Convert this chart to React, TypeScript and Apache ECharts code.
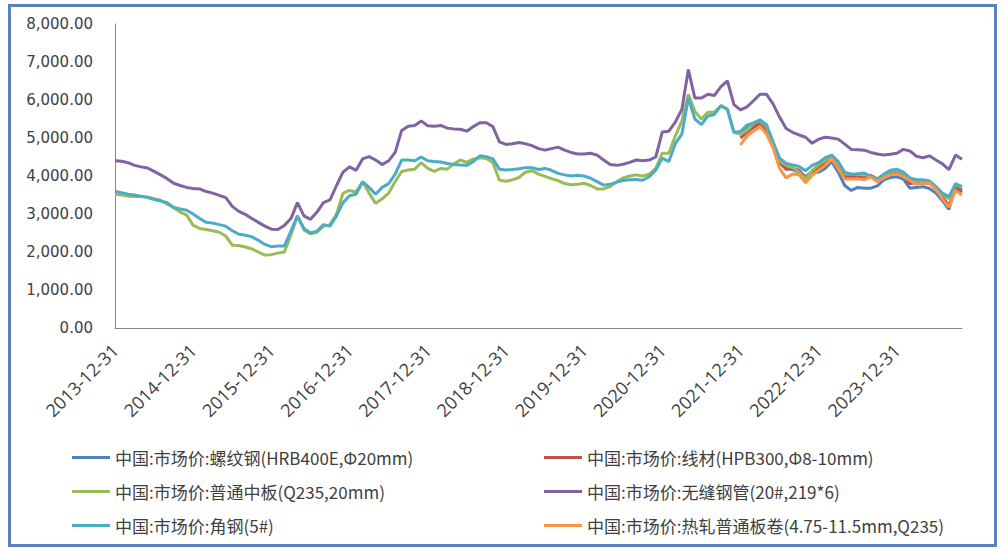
import React, { useEffect, useRef } from 'react';
import * as echarts from 'echarts';

// Monthly observations, month-end dates from 2013-12 to 2024-10
const START_YEAR = 2013;
const START_MONTH = 12;
const MONTH_COUNT = 131;

function monthEnd(y: number, m: number): string {
  const d = new Date(Date.UTC(y, m, 0)).getUTCDate();
  return `${y}-${String(m).padStart(2, '0')}-${d}`;
}

const categories: string[] = [];
for (let k = 0; k < MONTH_COUNT; k++) {
  const idx = START_MONTH - 1 + k;
  categories.push(monthEnd(START_YEAR + Math.floor(idx / 12), (idx % 12) + 1));
}

const seriesNames = [
  '中国:市场价:螺纹钢(HRB400E,Φ20mm)',
  '中国:市场价:线材(HPB300,Φ8-10mm)',
  '中国:市场价:普通中板(Q235,20mm)',
  '中国:市场价:无缝钢管(20#,219*6)',
  '中国:市场价:角钢(5#)',
  '中国:市场价:热轧普通板卷(4.75-11.5mm,Q235)',
];

const seriesColors = ['#4F81BD', '#C0504D', '#9BBB59', '#8064A2', '#4BACC6', '#F79646'];

// 无缝钢管 (full period)
const seamlessPipe = [
  4400, 4390, 4350, 4280, 4240, 4210, 4120, 4030, 3930, 3810, 3750, 3700,
  3670, 3660, 3590, 3550, 3490, 3430, 3200, 3070, 2990, 2880, 2780, 2680,
  2600, 2590, 2700, 2880, 3300, 2950, 2860, 3050, 3300, 3370, 3750, 4100,
  4240, 4150, 4450, 4510, 4420, 4300, 4400, 4620, 5200, 5310, 5330, 5450,
  5320, 5310, 5330, 5260, 5240, 5230, 5180, 5300, 5400, 5400, 5300, 4900,
  4830, 4850, 4880, 4850, 4800, 4720, 4680, 4720, 4760, 4680, 4620, 4580,
  4580, 4600, 4550, 4420, 4300, 4280, 4310, 4360, 4420, 4400, 4420, 4500,
  5160, 5180, 5420, 5750, 6800, 6050, 6050, 6150, 6120, 6350, 6500, 5880,
  5740, 5820, 5980, 6150, 6150, 5900, 5550, 5250, 5150, 5080, 5020, 4860,
  4970, 5020, 5000, 4970, 4840, 4700, 4690, 4680, 4620, 4580, 4550, 4570,
  4600, 4700, 4660, 4520, 4480, 4530, 4420, 4320, 4170, 4550, 4440,
];

// 角钢 (full period)
const angleSteel = [
  3590, 3560, 3520, 3500, 3470, 3430, 3380, 3340, 3300, 3170, 3130, 3100,
  3000, 2880, 2780, 2760, 2720, 2680, 2560, 2470, 2440, 2400, 2310, 2200,
  2140, 2160, 2160, 2550, 2950, 2620, 2500, 2550, 2720, 2680, 2950, 3300,
  3480, 3520, 3850, 3700, 3520, 3700, 3800, 4050, 4420, 4420, 4400, 4500,
  4400, 4380, 4370, 4330, 4300, 4290, 4280, 4380, 4530, 4510, 4450, 4180,
  4160, 4170, 4190, 4220, 4220, 4170, 4200, 4150, 4070, 4030, 4000, 4020,
  4000, 3940, 3850, 3760, 3780, 3840, 3880, 3900, 3910, 3890, 3980, 4150,
  4470, 4380, 4850, 5100, 6050, 5500, 5350, 5580, 5620, 5850, 5750, 5150,
  5170, 5340, 5400, 5480, 5350, 4900, 4470, 4330, 4290, 4250, 4140, 4280,
  4350, 4480, 4550, 4380, 4100, 4040, 4060, 4080, 3990, 3920, 4050, 4150,
  4180, 4100, 3950, 3900, 3900, 3870, 3720, 3550, 3450, 3800, 3720,
];

// 普通中板 (full period)
const mediumPlate = [
  3520, 3500, 3470, 3460, 3460, 3450, 3400, 3360, 3260, 3170, 3050, 2970,
  2700, 2620, 2590, 2560, 2520, 2420, 2180, 2170, 2130, 2080, 2000, 1920,
  1930, 1970, 2000, 2450, 2950, 2580, 2480, 2520, 2680, 2720, 3000, 3550,
  3620, 3580, 3850, 3550, 3280, 3400, 3550, 3850, 4120, 4160, 4180, 4350,
  4200, 4120, 4200, 4180, 4320, 4420, 4360, 4450, 4480, 4460, 4350, 3890,
  3860, 3900, 3960, 4100, 4140, 4050, 3990, 3930, 3880, 3800, 3770, 3780,
  3810, 3750, 3660, 3660, 3720, 3850, 3950, 4000, 4030, 4000, 4050, 4200,
  4600, 4600, 5050, 5450, 6150, 5700, 5500, 5680, 5680, 5850, 5760, 5150,
  5100, 5200, 5380, 5450, 5300, 4850, 4400, 4280, 4220, 4100, 3920, 4150,
  4300, 4420, 4520, 4350, 4080, 4050, 4030, 4050, 3980, 3900, 4020, 4120,
  4150, 4080, 3920, 3860, 3870, 3840, 3700, 3520, 3400, 3780, 3700,
];

// Series reported from 2021-12-31 onwards
const LATE_START = '2021-12-31';

const rebar = [
  5120, 5300, 5350, 5450, 5300, 4800, 4420, 4200, 4170, 4100, 3980, 4120,
  4100, 4200, 4380, 4100, 3750, 3620, 3700, 3680, 3680, 3740, 3900, 3960,
  3980, 3920, 3680, 3700, 3720, 3670, 3550, 3350, 3120, 3750, 3630,
];

const wireRod = [
  5000, 5150, 5280, 5380, 5220, 4800, 4350, 4180, 4200, 4150, 3950, 4100,
  4220, 4320, 4480, 4250, 3980, 3980, 3980, 3950, 4020, 3920, 4000, 4080,
  4100, 4030, 3800, 3820, 3860, 3840, 3680, 3450, 3220, 3680, 3580,
];

const hotRolledCoil = [
  4820, 5050, 5180, 5300, 5100, 4750, 4200, 3950, 4050, 4030, 3820, 4020,
  4150, 4280, 4450, 4200, 3920, 3920, 3930, 3900, 3970, 3850, 3950, 4030,
  4060, 3980, 3880, 3780, 3800, 3810, 3650, 3400, 3180, 3620, 3500,
];

function fromDate(values: number[], start: string): (number | null)[] {
  const offset = categories.indexOf(start);
  const out: (number | null)[] = new Array(offset).fill(null);
  return out.concat(values);
}

const seriesData = [
  fromDate(rebar, LATE_START),
  fromDate(wireRod, LATE_START),
  mediumPlate,
  seamlessPipe,
  angleSteel,
  fromDate(hotRolledCoil, LATE_START),
];

const fmt = (v: number) =>
  v.toLocaleString('en-US', { minimumFractionDigits: 2, maximumFractionDigits: 2 });

export default function App() {
  const ref = useRef<HTMLDivElement>(null);

  useEffect(() => {
    if (!ref.current) return;
    const chart = echarts.init(ref.current, undefined, { renderer: 'svg' });

    const legendBase = {
      orient: 'vertical' as const,
      top: 449,
      padding: 0,
      itemWidth: 38,
      itemHeight: 3,
      itemGap: 17,
      icon: 'rect',
      textStyle: {
        fontFamily: '"Noto Sans CJK SC", sans-serif',
        fontSize: 17,
        lineHeight: 16,
        color: '#404040',
      },
    };

    chart.setOption({
      animation: false,
      backgroundColor: '#ffffff',
      color: seriesColors,
      grid: { left: 115, right: 41, top: 24, bottom: 222, containLabel: false },
      legend: [
        { ...legendBase, left: 72, data: [seriesNames[0], seriesNames[2], seriesNames[4]] },
        { ...legendBase, left: 544, data: [seriesNames[1], seriesNames[3], seriesNames[5]] },
      ],
      xAxis: {
        type: 'category',
        boundaryGap: false,
        data: categories,
        axisLine: { show: true, lineStyle: { color: '#868686', width: 1 } },
        axisTick: { show: false },
        splitLine: { show: false },
        axisLabel: {
          interval: (_i: number, v: string) => v.endsWith('-12-31'),
          rotate: 45,
          margin: 19,
          fontFamily: '"Open Sans", sans-serif',
          fontSize: 18,
          color: '#404040',
        },
      },
      yAxis: {
        type: 'value',
        min: 0,
        max: 8000,
        interval: 1000,
        axisLine: { show: true, lineStyle: { color: '#868686', width: 1 } },
        axisTick: { show: false },
        splitLine: { show: false },
        axisLabel: {
          formatter: (v: number) => fmt(v),
          margin: 22,
          fontFamily: '"DejaVu Sans", sans-serif',
          fontSize: 15,
          color: '#404040',
        },
      },
      series: seriesNames.map((name, i) => ({
        name,
        type: 'line',
        data: seriesData[i],
        showSymbol: false,
        symbol: 'none',
        lineStyle: { width: 3, color: seriesColors[i] },
        itemStyle: { color: seriesColors[i] },
        emphasis: { disabled: true },
        connectNulls: false,
      })),
      graphic: [
        {
          type: 'rect',
          shape: { x: 9.5, y: 5.5, width: 986, height: 540 },
          style: { fill: 'none', stroke: '#5B80BE', lineWidth: 3 },
          silent: true,
          z: 100,
        },
      ],
    });

    return () => chart.dispose();
  }, []);

  return (
    <div
      ref={ref}
      style={{ position: 'fixed', left: 0, top: 0, width: 1003, height: 550 }}
    />
  );
}
